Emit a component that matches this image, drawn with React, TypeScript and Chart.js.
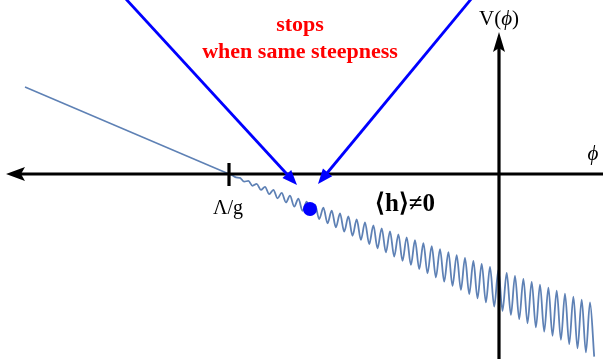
import { useEffect, useRef } from "react";
import { Chart, registerables } from "chart.js";

Chart.register(...registerables);

// Axis ranges: phi = 0 on the V axis, V = 0 on the phi axis
const PHI_MIN = -49.9;
const PHI_MAX = 10.4;
const V_MIN = -18.5;
const V_MAX = 17.4;

// Position of the Λ/g tick on the phi axis
const LAMBDA_OVER_G = -27.0;

// Linear slope before the barrier turns on
const linearPhi = [-47.4, -27.0];
const linearV = [8.7, 0];

// After Λ/g: alternating crests and troughs of the growing wiggles
const wigglePhi = [
  -27.0,
  -26.73, -26.31, -25.9, -25.48, -25.06, -24.65, -24.23, -23.81, -23.4, -22.98,
  -22.56, -22.15, -21.73, -21.31, -20.9, -20.48, -20.06, -19.65, -19.23, -18.81,
  -18.4, -17.98, -17.56, -17.15, -16.73, -16.31, -15.9, -15.48, -15.06, -14.65,
  -14.23, -13.81, -13.4, -12.98, -12.56, -12.15, -11.73, -11.31, -10.9, -10.48,
  -10.06, -9.65, -9.23, -8.81, -8.4, -7.98, -7.56, -7.15, -6.73, -6.31,
  -5.9, -5.48, -5.06, -4.65, -4.23, -3.81, -3.4, -2.98, -2.56, -2.15,
  -1.73, -1.31, -0.9, -0.48, -0.06, 0.35, 0.77, 1.19, 1.6, 2.02,
  2.44, 2.85, 3.27, 3.69, 4.1, 4.52, 4.94, 5.35, 5.77, 6.19,
  6.6, 7.02, 7.44, 7.85, 8.27, 8.69, 9.1, 9.52,
];
const wiggleV = [
  0,
  -0.1, -0.34, -0.39, -0.76, -0.69, -1.18, -0.99, -1.59, -1.28, -2.01,
  -1.58, -2.43, -1.88, -2.84, -2.17, -3.26, -2.47, -3.68, -2.77, -4.09,
  -3.06, -4.51, -3.36, -4.93, -3.66, -5.34, -3.95, -5.76, -4.25, -6.18,
  -4.55, -6.59, -4.84, -7.01, -5.14, -7.43, -5.44, -7.84, -5.73, -8.26,
  -6.03, -8.68, -6.33, -9.09, -6.62, -9.51, -6.92, -9.93, -7.22, -10.34,
  -7.51, -10.76, -7.81, -11.18, -8.11, -11.59, -8.4, -12.01, -8.7, -12.43,
  -9.0, -12.84, -9.29, -13.26, -9.59, -13.68, -9.89, -14.09, -10.18, -14.51,
  -10.48, -14.93, -10.78, -15.34, -11.07, -15.76, -11.37, -16.18, -11.67, -16.59,
  -11.96, -17.01, -12.26, -17.43, -12.56, -17.84, -12.85, -18.26,
];

// Where the field settles
const restPhi = [-18.9];
const restV = [-3.5];

// Steepness arrows: start (phi, V) and tip (phi, V)
const arrowLeftFrom = [-37.4, 17.6];
const arrowLeftTo = [-20.2, -1.1];
const arrowRightFrom = [-2.7, 17.6];
const arrowRightTo = [-18.1, -1.0];

// Labels
const noteLines = ["stops", "when same steepness"];
const vevLabel = "\u27E8h\u27E9\u22600";
const tickLabel = "\u039B/g";
const phiSymbol = "\u03D5";

const CURVE = "#5E81B5";
const ARROW = "#0000FF";
const SERIF = '"Liberation Serif", "Times New Roman", serif';

const toPoints = (xs: number[], ys: number[]) => xs.map((x, i) => ({ x, y: ys[i] }));

function drawArrow(ctx: CanvasRenderingContext2D, x1: number, y1: number, x2: number, y2: number) {
  const ang = Math.atan2(y2 - y1, x2 - x1);
  const len = 15;
  const half = 6;
  const bx = x2 - Math.cos(ang) * len;
  const by = y2 - Math.sin(ang) * len;
  ctx.beginPath();
  ctx.moveTo(x1, y1);
  ctx.lineTo(bx + Math.cos(ang) * 2, by + Math.sin(ang) * 2);
  ctx.stroke();
  ctx.beginPath();
  ctx.moveTo(x2, y2);
  ctx.lineTo(bx - Math.sin(ang) * half, by + Math.cos(ang) * half);
  ctx.lineTo(bx + Math.sin(ang) * half, by - Math.cos(ang) * half);
  ctx.closePath();
  ctx.fill();
}

const overlay = {
  id: "overlay",
  afterDatasetsDraw(chart: any) {
    const { ctx, scales } = chart;
    const sx = scales.x;
    const sy = scales.y;
    const x0 = sx.getPixelForValue(0);
    const y0 = sy.getPixelForValue(0);
    const W = chart.width;
    const H = chart.height;

    ctx.save();
    ctx.strokeStyle = "#000";
    ctx.fillStyle = "#000";
    ctx.lineWidth = 3.2;

    // phi axis, arrow pointing left
    const tipX = 6;
    ctx.beginPath();
    ctx.moveTo(tipX + 14, y0);
    ctx.lineTo(W, y0);
    ctx.stroke();
    ctx.beginPath();
    ctx.moveTo(tipX, y0);
    ctx.lineTo(tipX + 19, y0 - 7);
    ctx.lineTo(tipX + 15, y0);
    ctx.lineTo(tipX + 19, y0 + 7);
    ctx.closePath();
    ctx.fill();

    // V axis, arrow pointing up
    const tipY = 32;
    ctx.beginPath();
    ctx.moveTo(x0, H);
    ctx.lineTo(x0, tipY + 14);
    ctx.stroke();
    ctx.beginPath();
    ctx.moveTo(x0, tipY);
    ctx.lineTo(x0 - 6, tipY + 20);
    ctx.lineTo(x0, tipY + 16);
    ctx.lineTo(x0 + 6, tipY + 20);
    ctx.closePath();
    ctx.fill();

    // Λ/g tick
    const xt = sx.getPixelForValue(LAMBDA_OVER_G);
    ctx.beginPath();
    ctx.moveTo(xt, y0 - 11);
    ctx.lineTo(xt, y0 + 12);
    ctx.stroke();

    // steepness arrows
    ctx.strokeStyle = ARROW;
    ctx.fillStyle = ARROW;
    ctx.lineWidth = 2.8;
    drawArrow(
      ctx,
      sx.getPixelForValue(arrowLeftFrom[0]), sy.getPixelForValue(arrowLeftFrom[1]),
      sx.getPixelForValue(arrowLeftTo[0]), sy.getPixelForValue(arrowLeftTo[1])
    );
    drawArrow(
      ctx,
      sx.getPixelForValue(arrowRightFrom[0]), sy.getPixelForValue(arrowRightFrom[1]),
      sx.getPixelForValue(arrowRightTo[0]), sy.getPixelForValue(arrowRightTo[1])
    );

    // text
    ctx.textBaseline = "alphabetic";
    ctx.fillStyle = "#000";

    // Λ/g under the tick
    ctx.font = `20px ${SERIF}`;
    ctx.textAlign = "center";
    ctx.fillText(tickLabel, xt - 1, y0 + 40);

    // V(ϕ) above the V axis
    const parts: [string, string][] = [
      ["V(", `21px ${SERIF}`],
      [phiSymbol, `italic 21px ${SERIF}`],
      [")", `21px ${SERIF}`],
    ];
    let total = 0;
    for (const [t, f] of parts) {
      ctx.font = f;
      total += ctx.measureText(t).width;
    }
    let cx = x0 - total / 2;
    ctx.textAlign = "left";
    for (const [t, f] of parts) {
      ctx.font = f;
      ctx.fillText(t, cx, 25);
      cx += ctx.measureText(t).width;
    }

    // ϕ at the right end of the phi axis
    ctx.font = `italic 21px ${SERIF}`;
    ctx.textAlign = "center";
    ctx.fillText(phiSymbol, 593, y0 - 14);

    // ⟨h⟩≠0
    ctx.font = `bold 25px ${SERIF}`;
    ctx.fillText(vevLabel, 405, 211);

    // red note
    ctx.fillStyle = "#FF0000";
    ctx.font = `bold 22px ${SERIF}`;
    ctx.fillText(noteLines[0], 300, 31);
    ctx.fillText(noteLines[1], 300, 58);

    ctx.restore();
  },
};

export default function App() {
  const ref = useRef<HTMLCanvasElement | null>(null);

  useEffect(() => {
    const canvas = ref.current;
    if (!canvas) return;
    const chart = new Chart(canvas, {
      type: "scatter",
      data: {
        datasets: [
          {
            data: toPoints(restPhi, restV),
            pointRadius: 7,
            pointBackgroundColor: ARROW,
            pointBorderWidth: 0,
            showLine: false,
            order: 0,
          },
          {
            data: toPoints(linearPhi, linearV),
            showLine: true,
            borderColor: CURVE,
            borderWidth: 1.5,
            pointRadius: 0,
            tension: 0,
            order: 2,
          },
          {
            data: toPoints(wigglePhi, wiggleV),
            showLine: true,
            borderColor: CURVE,
            borderWidth: 1.8,
            pointRadius: 0,
            cubicInterpolationMode: "monotone",
            order: 1,
          },
        ],
      },
      options: {
        responsive: false,
        animation: false,
        events: [],
        layout: { padding: 0, autoPadding: false },
        plugins: {
          legend: { display: false },
          tooltip: { enabled: false },
        },
        scales: {
          x: { type: "linear", min: PHI_MIN, max: PHI_MAX, display: false },
          y: { type: "linear", min: V_MIN, max: V_MAX, display: false },
        },
      },
      plugins: [overlay],
    } as any);
    return () => chart.destroy();
  }, []);

  return (
    <div style={{ position: "fixed", left: 0, top: 0, width: 603, height: 359, background: "#fff" }}>
      <canvas ref={ref} width={603} height={359} />
    </div>
  );
}
